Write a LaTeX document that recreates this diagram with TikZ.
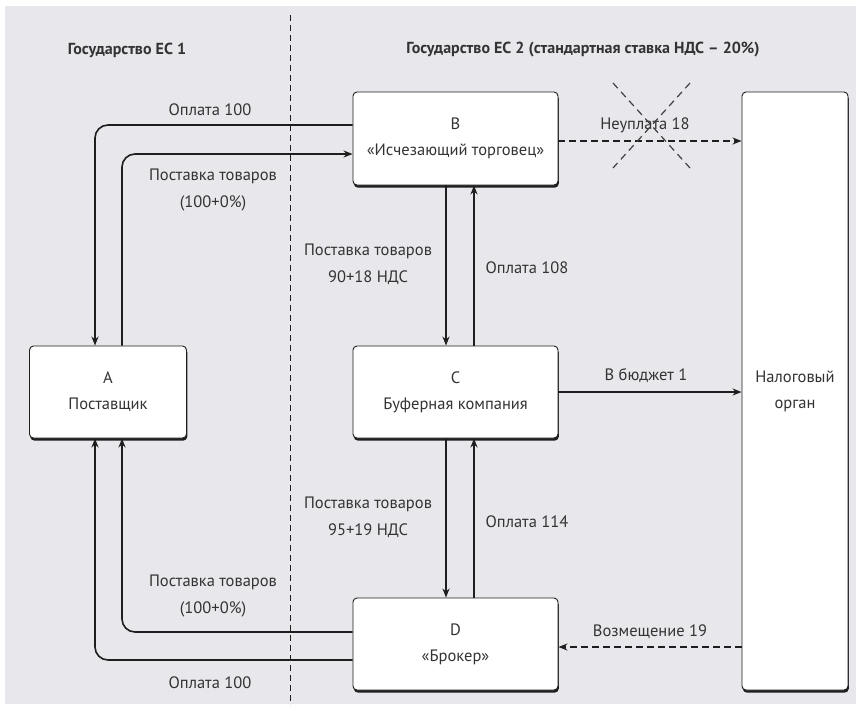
\documentclass[tikz,border=0pt]{standalone}
\usepackage{fontspec}
\setmainfont{PT Sans}
\usepackage{xcolor}
\usepackage{tikz}
\usetikzlibrary{arrows.meta}
\definecolor{bgcol}{HTML}{E8E8EC}
\definecolor{txtcol}{HTML}{333333}
\definecolor{linecol}{HTML}{1E1E1E}
\tikzstyle{agent} = [draw=linecol, fill=white, line width=0.9pt,
    rectangle, rounded corners=4pt, align=center, text=txtcol, font=\fontsize{16.5}{26}\selectfont,
    preaction={fill=linecol, transform canvas={shift={(0.8pt,-2.6pt)}}}]
\tikzstyle{lbl} = [text=txtcol, align=center, font=\fontsize{16.5}{27}\selectfont]
\tikzstyle{head} = [text=txtcol, font=\fontsize{16}{19}\selectfont\bfseries]
\tikzstyle{flow} = [draw=linecol, line width=1.6pt, rounded corners=13pt, -{Stealth[length=9pt,width=7pt]}]
\tikzstyle{dflow} = [flow, dash pattern=on 7pt off 4pt]

\begin{document}
\begin{tikzpicture}[x=1pt, y=-1pt]
% background
\fill[white] (0,0) rectangle (861,710);
\fill[bgcol] (5,6) rectangle (856,704);
\draw[linecol, line width=1pt, dash pattern=on 6pt off 4pt] (290,15) -- (290,705);

% headings
\node[head] (ec1) at (127,50) {Государство ЕС 1};
\node[head] (ec2) at (583,50) {Государство ЕС 2 (стандартная ставка НДС -- 20\%)};

% participants
\node[agent, minimum width=205pt, minimum height=93pt] (B) at (455.5,138.5) {B\\«Исчезающий торговец»};
\node[agent, minimum width=157pt, minimum height=92pt] (A) at (108,392) {A\\Поставщик};
\node[agent, minimum width=205pt, minimum height=92pt] (C) at (455.5,392) {C\\Буферная компания};
\node[agent, minimum width=205pt, minimum height=92pt] (D) at (455.5,644) {D\\«Брокер»};
\node[agent, minimum width=106pt, minimum height=598pt] (tax) at (795,391) {Налоговый\\орган};

% A <-> B
\draw[flow] ([yshift=13.5pt]B.west) -| ([xshift=-13pt]A.north);
\draw[flow] ([xshift=14pt]A.north) |- ([yshift=-15.5pt]B.west);
\node[lbl] (payAB) at (210,110) {Оплата 100};
\node[lbl] (supAB) at (213,190) {Поставка товаров\\(100+0\%)};

% B <-> C
\draw[flow] ([xshift=-9.5pt]B.south) -- ([xshift=-9.5pt]C.north);
\draw[flow] ([xshift=18.5pt]C.north) -- ([xshift=18.5pt]B.south);
\node[lbl] (supBC) at (368,264) {Поставка товаров\\90+18 НДС};
\node[lbl] (payBC) at (527,268) {Оплата 108};

% C <-> D
\draw[flow] ([xshift=-9.5pt]C.south) -- ([xshift=-9.5pt]D.north);
\draw[flow] ([xshift=18.5pt]D.north) -- ([xshift=18.5pt]C.south);
\node[lbl] (supCD) at (368,517) {Поставка товаров\\95+19 НДС};
\node[lbl] (payCD) at (527,522) {Оплата 114};

% D <-> A
\draw[flow] ([yshift=12pt]D.west) -| ([xshift=14pt]A.south);
\draw[flow] ([yshift=-16pt]D.west) -| ([xshift=-13pt]A.south);
\node[lbl] (supDA) at (213,596) {Поставка товаров\\(100+0\%)};
\node[lbl] (payDA) at (210,683) {Оплата 100};

% tax authority
\coordinate (bt) at ([yshift=-2.5pt]B.east);
\coordinate (dt) at ([yshift=-3pt]D.east);
\draw[dflow] (bt) -- (bt -| tax.west);
\node[lbl] (unpaid) at (645,125) {Неуплата 18};
\draw[linecol!85, line width=1.2pt, dash pattern=on 7pt off 5pt] (613,83) -- (690,168) (690,83) -- (613,168);
\draw[flow] (C.east) -- (C.east -| tax.west);
\node[lbl] (budget) at (646,376) {В бюджет 1};
\draw[dflow] (dt -| tax.west) -- (dt);
\node[lbl] (refund) at (650,632) {Возмещение 19};
\end{tikzpicture}
\end{document}
